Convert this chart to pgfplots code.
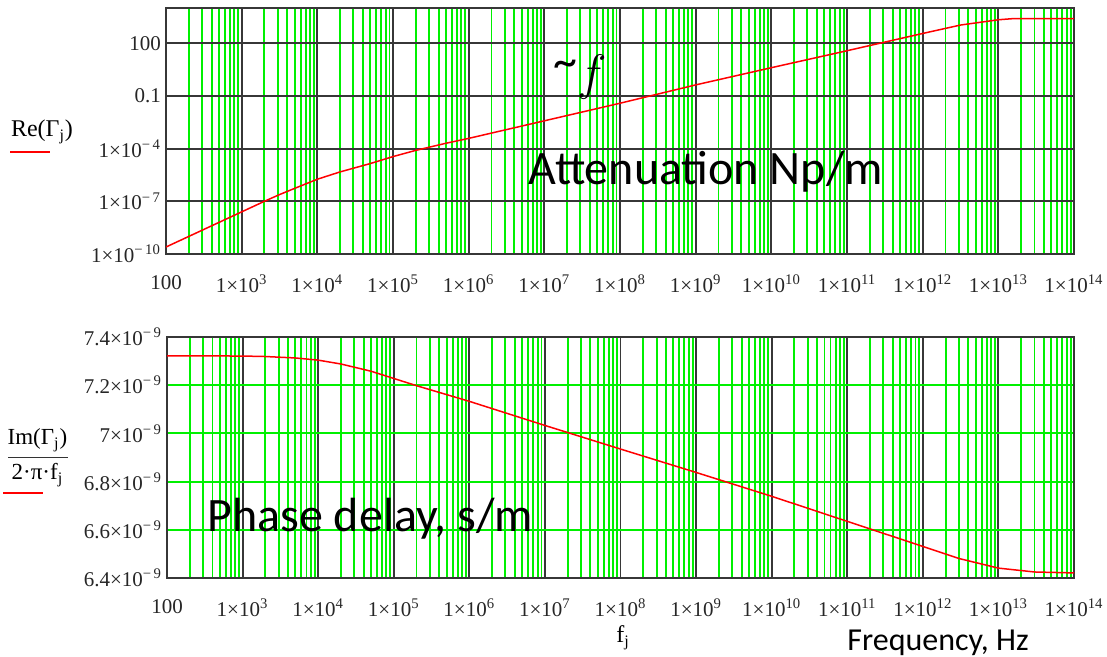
\documentclass[border=0pt]{standalone}
\usepackage{pgfplots}
\pgfplotsset{compat=1.18}
\usepackage{fontspec}
\setmainfont{Liberation Serif}
\newfontfamily\calfont{Carlito}
\definecolor{gridgreen}{RGB}{0,240,0}
\definecolor{framegray}{RGB}{55,55,55}
\def\minorlist{2e2,3e2,4e2,5e2,6e2,7e2,8e2,9e2,2e3,3e3,4e3,5e3,6e3,7e3,8e3,9e3,2e4,3e4,4e4,5e4,6e4,7e4,8e4,9e4,2e5,3e5,4e5,5e5,6e5,7e5,8e5,9e5,2e6,3e6,4e6,5e6,6e6,7e6,8e6,9e6,2e7,3e7,4e7,5e7,6e7,7e7,8e7,9e7,2e8,3e8,4e8,5e8,6e8,7e8,8e8,9e8,2e9,3e9,4e9,5e9,6e9,7e9,8e9,9e9,2e10,3e10,4e10,5e10,6e10,7e10,8e10,9e10,2e11,3e11,4e11,5e11,6e11,7e11,8e11,9e11,2e12,3e12,4e12,5e12,6e12,7e12,8e12,9e12,2e13,3e13,4e13,5e13,6e13,7e13,8e13,9e13}
\begin{document}
\begin{tikzpicture}
\path[use as bounding box] (0pt,0pt) rectangle (553.5pt,-328.5pt);
% ---------------- top: attenuation ----------------
\begin{axis}[
  scale only axis, anchor=south west,
  at={(83pt,-127pt)}, width=454pt, height=123pt,
  xmode=log, xmin=1e2, xmax=1e14,
  xtick={1e2,1e3,1e4,1e5,1e6,1e7,1e8,1e9,1e10,1e11,1e12,1e13,1e14},
  minor xtick/.expanded={\minorlist},
  xticklabels={100,1×10\textsuperscript{3},1×10\textsuperscript{4},1×10\textsuperscript{5},1×10\textsuperscript{6},1×10\textsuperscript{7},1×10\textsuperscript{8},1×10\textsuperscript{9},1×10\textsuperscript{10},1×10\textsuperscript{11},1×10\textsuperscript{12},1×10\textsuperscript{13},1×10\textsuperscript{14}},
  xmajorgrids=true, xminorgrids=true, ymajorgrids=true, yminorgrids=false,
  minor x grid style={draw=gridgreen, line width=0.95pt},
  major x grid style={draw=framegray, line width=0.95pt},
  major y grid style={draw=framegray, line width=0.95pt},
  tick style={draw=none},
  axis line style={draw=framegray, line width=0.9pt},
  tick label style={font=\fontsize{10.5}{11}\selectfont, text=black!85},
  xticklabel style={yshift=-7pt},
  yticklabel style={xshift=1pt},
  ymode=log, ymin=1e-10, ymax=1e4,
  ytick={1e-10,1e-7,1e-4,1e-1,1e2},
  yticklabels={1×10\textsuperscript{−\,10},1×10\textsuperscript{−\,7},1×10\textsuperscript{−\,4},0.1,100},
]
\addplot[red, line width=0.75pt] coordinates {
(1e2,2.5e-10) (1e3,2.5e-8) (2e3,1e-7) (3.16e3,2.4e-7) (5e3,5.4e-7)
(1e4,1.8e-6) (2e4,4.7e-6) (5e4,1.4e-5) (1e5,3.5e-5) (2e5,7.9e-5) (5e5,2e-4)
(1e6,3.8e-4) (1e7,3.8e-3) (1e8,3.8e-2) (1e9,0.42) (1e10,4) (1e11,37)
(1e12,355) (3.16e12,1070) (1e13,2140) (1.6e13,2500) (1e14,2500)
};
\end{axis}
% ---------------- bottom: phase delay ----------------
\begin{axis}[
  scale only axis, anchor=south west,
  at={(83.5pt,-289pt)}, width=453.5pt, height=120.5pt,
  xmode=log, xmin=1e2, xmax=1e14,
  xtick={1e2,1e3,1e4,1e5,1e6,1e7,1e8,1e9,1e10,1e11,1e12,1e13,1e14},
  minor xtick/.expanded={\minorlist},
  xticklabels={100,1×10\textsuperscript{3},1×10\textsuperscript{4},1×10\textsuperscript{5},1×10\textsuperscript{6},1×10\textsuperscript{7},1×10\textsuperscript{8},1×10\textsuperscript{9},1×10\textsuperscript{10},1×10\textsuperscript{11},1×10\textsuperscript{12},1×10\textsuperscript{13},1×10\textsuperscript{14}},
  xmajorgrids=true, xminorgrids=true, ymajorgrids=true, yminorgrids=false,
  minor x grid style={draw=gridgreen, line width=0.95pt},
  major x grid style={draw=framegray, line width=0.95pt},
  major y grid style={draw=gridgreen, line width=1pt},
  tick style={draw=none},
  axis line style={draw=framegray, line width=0.9pt},
  tick label style={font=\fontsize{10.5}{11}\selectfont, text=black!85},
  xticklabel style={yshift=-7pt},
  yticklabel style={xshift=1pt},
  ymin=6.4e-9, ymax=7.4e-9, scaled y ticks=false,
  ytick={6.4e-9,6.6e-9,6.8e-9,7e-9,7.2e-9,7.4e-9},
  yticklabels={6.4×10\textsuperscript{−\,9},6.6×10\textsuperscript{−\,9},6.8×10\textsuperscript{−\,9},7×10\textsuperscript{−\,9},7.2×10\textsuperscript{−\,9},7.4×10\textsuperscript{−\,9}},
]
\addplot[red, line width=0.75pt] coordinates {
(1e2,7.322e-9) (1e3,7.321e-9) (2e3,7.319e-9) (5e3,7.313e-9) (1e4,7.304e-9)
(2e4,7.288e-9) (5e4,7.258e-9) (1e5,7.228e-9) (2e5,7.198e-9) (1e6,7.133e-9)
(1e7,7.033e-9) (1e8,6.935e-9) (1e9,6.838e-9) (1e10,6.739e-9) (1e11,6.635e-9)
(1e12,6.531e-9) (3e12,6.481e-9) (1e13,6.441e-9) (3e13,6.425e-9) (1e14,6.421e-9)
};
\end{axis}
% ---------------- labels ----------------
\node[font=\fontsize{12}{14}\selectfont] at (21pt,-66pt) {Re(Γ\textsubscript{j})};
\draw[red, line width=0.8pt] (5pt,-76pt) -- (25pt,-76pt);
\node[font=\fontsize{11.5}{13}\selectfont] at (18.75pt,-220pt) {Im(Γ\textsubscript{j})};
\draw[black!80, line width=0.5pt] (4pt,-228.8pt) -- (34pt,-228.8pt);
\node[font=\fontsize{11.5}{13}\selectfont] at (18.75pt,-237.5pt) {2·π·f\textsubscript{j}};
\draw[red, line width=0.8pt] (1.5pt,-246.5pt) -- (21.5pt,-246.5pt);
\node[font=\fontsize{12}{14}\selectfont] at (311.5pt,-319pt) {f\textsubscript{j}};
\node[font=\calfont\fontsize{16}{18}\selectfont, anchor=base west, inner sep=0pt] at (423.5pt,-325pt) {Frequency, Hz};
\node[font=\calfont\fontsize{24}{26}\selectfont, anchor=base west, inner sep=0pt] at (264pt,-92.5pt) {Attenuation Np/m};
\node[font=\calfont\fontsize{24}{26}\selectfont, anchor=base west, inner sep=0pt] at (103.5pt,-265.8pt) {Phase delay, s/m};
\node[font=\calfont\fontsize{24}{26}\selectfont, inner sep=0pt] at (290pt,-38.5pt) {\raisebox{6pt}{\textasciitilde}$f$};
\end{tikzpicture}
\end{document}
